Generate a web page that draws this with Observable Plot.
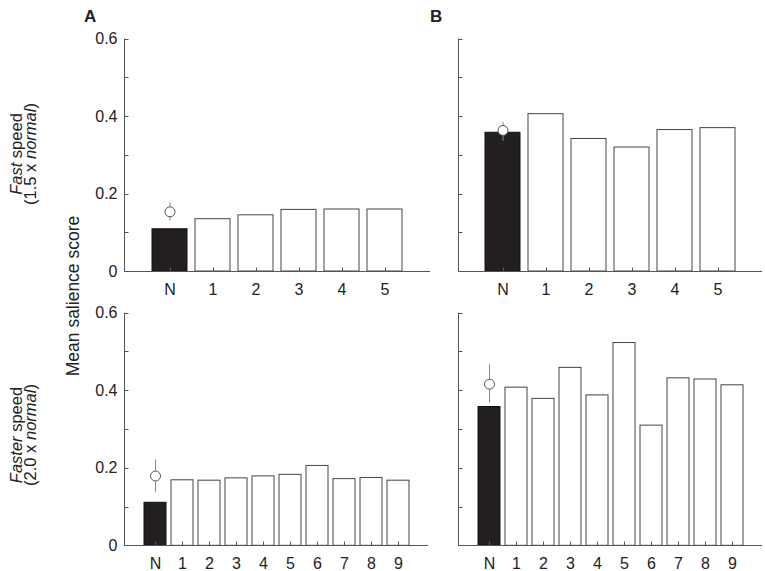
<!DOCTYPE html>
<html><head><meta charset="utf-8">
<script src="https://cdn.jsdelivr.net/npm/d3@7"></script>
<script src="https://cdn.jsdelivr.net/npm/@observablehq/plot@0.6"></script>
<style>
body{margin:0;background:#fff;}
#fig{position:relative;width:765px;height:571px;font-family:"Liberation Sans",Arial,Helvetica,sans-serif;color:#222;overflow:hidden}
.panel{position:absolute}
.lab{position:absolute;white-space:nowrap;font-size:16.5px;line-height:16px;transform:translate(-50%,-50%) rotate(-90deg)}
.big{font-size:17.5px}
.letter{position:absolute;font-weight:bold;font-size:17px;line-height:17px}
</style></head><body><div id="fig"></div>
<script>
// Categories
const catsFast = ["N","1","2","3","4","5"];
const catsFaster = ["N","1","2","3","4","5","6","7","8","9"];
// Bar values (mean salience score)
const fastA = [0.109, 0.135, 0.145, 0.159, 0.160, 0.160];
const fastB = [0.358, 0.406, 0.342, 0.320, 0.365, 0.370];
const fasterA = [0.111, 0.169, 0.168, 0.174, 0.179, 0.183, 0.206, 0.172, 0.175, 0.168];
const fasterB = [0.358, 0.408, 0.379, 0.459, 0.388, 0.523, 0.310, 0.432, 0.429, 0.414];
// Mean with error range (circle marker)
const fastAMean = {cat: "N", m: 0.154, lo: 0.130, hi: 0.177};
const fastBMean = {cat: "N", m: 0.364, lo: 0.336, hi: 0.385};
const fasterAMean = {cat: "N", m: 0.180, lo: 0.137, hi: 0.222};
const fasterBMean = {cat: "N", m: 0.417, lo: 0.368, hi: 0.467};
// Ticks
const yTicks = [0, 0.1, 0.2, 0.3, 0.4, 0.5, 0.6];
const yLabelTicks = [0, 0.2, 0.4, 0.6];
const yTickLabels = ["0", "0.2", "0.4", "0.6"];

const AXIS = "#555";
const FONT = '"Liberation Sans", Arial, Helvetica, sans-serif';

function frameMark(cats) {
  return (index, scales, values, dim) => {
    const {width, height, marginLeft, marginRight, marginTop, marginBottom} = dim;
    const xl = Math.round(marginLeft) + 0.5, xr = width - marginRight;
    const yb = Math.round(height - marginBottom) + 0.5, yt = marginTop;
    const g = d3.create("svg:g").attr("stroke", AXIS).attr("stroke-width", 1).attr("fill", "none");
    g.append("line").attr("x1", xl).attr("x2", xl).attr("y1", yt).attr("y2", yb);
    g.append("line").attr("x1", xl).attr("x2", xr).attr("y1", yb).attr("y2", yb);
    for (const t of yTicks) {
      const y = Math.round(scales.y(t)) + 0.5;
      g.append("line").attr("x1", xl).attr("x2", xl + 4).attr("y1", y).attr("y2", y);
    }
    const bw = typeof scales.x.bandwidth === "function" ? scales.x.bandwidth() : (scales.scales?.x?.bandwidth ?? 0);
    for (const c of cats) {
      const x = Math.round(scales.x(c) + bw / 2) + 0.5;
      g.append("line").attr("x1", x).attr("x2", x).attr("y1", yb).attr("y2", yb - 4);
    }
    return g.node();
  };
}

function panel({cats, vals, mean, left, top, width, height, mt, mb, ml, mr, yAxis, pi, po}) {
  const data = cats.map((c, i) => ({cat: c, v: vals[i]}));
  const marks = [
    Plot.barY(data.filter(d => d.cat === "N"), {x: "cat", y: "v", fill: "#231f20", stroke: "#111"}),
    Plot.barY(data.filter(d => d.cat !== "N"), {x: "cat", y: "v", fill: "white", stroke: "#444"}),
    frameMark(cats),
    Plot.ruleX([mean], {x: "cat", y1: "lo", y2: "hi", stroke: "#8a8a8a"}),
    Plot.dot([mean], {x: "cat", y: "m", r: 5, fill: "white", stroke: "#555", strokeWidth: 1}),
    Plot.axisX({tickSize: 0, tickPadding: 12, fontSize: 16, label: null})
  ];
  if (yAxis) marks.push(Plot.axisY({
    ticks: yLabelTicks, tickSize: 0, tickPadding: 7, fontSize: 16, label: null,
    tickFormat: d => yTickLabels[yLabelTicks.indexOf(d)]
  }));
  const svg = Plot.plot({
    width, height, marginTop: mt, marginBottom: mb, marginLeft: ml, marginRight: mr,
    x: {type: "band", domain: cats, paddingInner: pi, paddingOuter: po},
    y: {domain: [0, 0.6], axis: yAxis ? undefined : null},
    style: {background: "transparent", color: "#222", fontFamily: FONT, fontSize: "16px", overflow: "visible"},
    marks
  });
  svg.classList.add("panel");
  svg.style.left = left + "px";
  svg.style.top = top + "px";
  svg.style.maxWidth = "none";
  document.getElementById("fig").appendChild(svg);
}

panel({cats: catsFast, vals: fastA, mean: fastAMean, left: 90, top: 0, width: 350, height: 300,
  mt: 38.5, mb: 29, ml: 34, mr: 10, yAxis: true, pi: 0.19, po: 0.6});
panel({cats: catsFast, vals: fastB, mean: fastBMean, left: 440, top: 0, width: 325, height: 300,
  mt: 38.5, mb: 29, ml: 18, mr: 3, yAxis: false, pi: 0.19, po: 0.6});
panel({cats: catsFaster, vals: fasterA, mean: fasterAMean, left: 90, top: 300, width: 350, height: 271,
  mt: 12.7, mb: 25.7, ml: 34, mr: 12, yAxis: true, pi: 0.2, po: 0.6});
panel({cats: catsFaster, vals: fasterB, mean: fasterBMean, left: 440, top: 300, width: 325, height: 271,
  mt: 12.7, mb: 25.7, ml: 18, mr: 3, yAxis: false, pi: 0.2, po: 0.6});

const fig = document.getElementById("fig");
function addDiv(cls, html, x, y) {
  const d = document.createElement("div");
  d.className = cls; d.innerHTML = html;
  d.style.left = x + "px"; d.style.top = y + "px";
  fig.appendChild(d);
}
addDiv("letter", "A", 84, 8);
addDiv("letter", "B", 430, 8);
addDiv("lab", "<i>Fast</i> speed", 16, 154);
addDiv("lab", "(1.5 x <i>normal</i>)", 30, 154);
addDiv("lab", "<i>Faster</i> speed", 16, 435);
addDiv("lab", "(2.0 x <i>normal</i>)", 30, 435);
addDiv("lab big", "Mean salience score", 73, 296);
</script>
</body></html>
